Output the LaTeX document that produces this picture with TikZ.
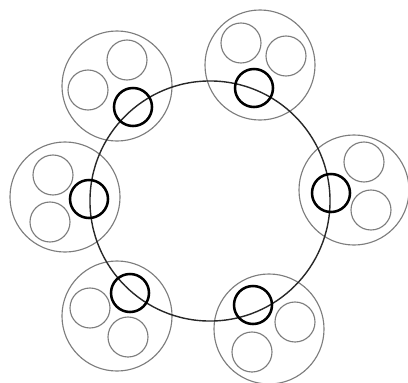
\documentclass[tikz,border=0pt]{standalone}
\usetikzlibrary{shapes.geometric}

\tikzset{
    ring/.style={circle, inner sep=0pt, minimum size=2.75cm, draw={rgb,255:red,125;green,125;blue,125}, line width=0.8pt},
    cell/.style={circle, inner sep=0pt, minimum size=1cm, draw={rgb,255:red,125;green,125;blue,125}, line width=0.8pt},
    joint/.style={circle, inner sep=0pt, minimum size=0.95cm, draw={rgb,255:red,0;green,0;blue,0}, line width=1.8pt},
    loop/.style={circle, inner sep=0pt, minimum size=6cm, draw={rgb,255:red,40;green,40;blue,40}, line width=1pt}
}

\begin{document}
\begin{tikzpicture}[x=0.025cm, y=-0.025cm]

    \useasboundingbox (0,0) rectangle (408,382);

    % outer rings
    \node[ring] (ndRingA) at (117,86) {};
    \node[ring] (ndRingB) at (260,65) {};
    \node[ring] (ndRingC) at (65,197) {};
    \node[ring] (ndRingD) at (354,190) {};
    \node[ring] (ndRingE) at (117,316) {};
    \node[ring] (ndRingF) at (269,329) {};

    % cells inside the rings
    \node[cell] (ndCellA1) at (127,60) {};
    \node[cell] (ndCellA2) at (88,90) {};
    \node[cell] (ndCellB1) at (241,43) {};
    \node[cell] (ndCellB2) at (286,56) {};
    \node[cell] (ndCellC1) at (53,175) {};
    \node[cell] (ndCellC2) at (50,222) {};
    \node[cell] (ndCellD1) at (364,162) {};
    \node[cell] (ndCellD2) at (371,210) {};
    \node[cell] (ndCellE1) at (90,308) {};
    \node[cell] (ndCellE2) at (128,337) {};
    \node[cell] (ndCellF1) at (295,322) {};
    \node[cell] (ndCellF2) at (252,352) {};

    % main loop
    \node[loop] (ndLoop) at (210,201) {};

    % joints on the loop
    \node[joint] (ndJointA) at (133,107) {};
    \node[joint] (ndJointB) at (254,88) {};
    \node[joint] (ndJointC) at (89,199) {};
    \node[joint] (ndJointD) at (331,193) {};
    \node[joint] (ndJointE) at (130,293) {};
    \node[joint] (ndJointF) at (253,305) {};
\end{tikzpicture}
\end{document}
